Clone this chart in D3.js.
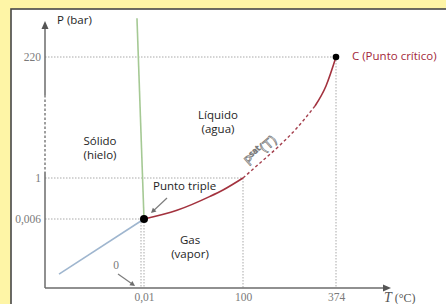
<!DOCTYPE html>
<html><head><meta charset="utf-8">
<script src="https://cdn.jsdelivr.net/npm/d3@7"></script>
<style>
html,body{margin:0;padding:0;background:#fef5a6;}
svg{display:block;}
</style></head>
<body>
<svg id="c" width="446" height="304"></svg>
<script>
// ---- data ----
const xTickVals = [0.01, 100, 374];
const xTickLabels = ["0,01", "100", "374"];
const yTickVals = [0.006, 1, 220];
const yTickLabels = ["0,006", "1", "220"];
// phase boundaries [T (°C), P (bar)]
const sublimation = [[-42.7, 0.0012], [0.01, 0.006]];
const fusion = [[-2.1, 290], [0.01, 0.006]];
const vaporLow = [[0.01, 0.006], [33.3, 0.217], [66.7, 0.554], [79.8, 0.709], [100, 1]];
const vaporMid = [[100, 1], [150.1, 28.2], [203.1, 57.1], [256.1, 89.7], [312.1, 131.3]];
const vaporHigh = [[312.1, 131.3], [344.5, 167.5], [374, 220]];
const triplePoint = [0.01, 0.006];
const criticalPoint = [374, 220];
const zeroT = 0;

const svg = d3.select("#c");
// schematic (piecewise) scales
const x = d3.scaleLinear().domain([-50, 0, 0.01, 100, 374]).range([45, 141, 144, 243, 336]);
const y = d3.scaleLinear().domain([0, 0.006, 1, 220]).range([288, 219, 178, 57]);
const x0 = 45, y0 = 288;

// panel
svg.append("rect").attr("x", 11).attr("y", 9).attr("width", 460).attr("height", 320)
  .attr("fill", "#fff").attr("stroke", "#474747").attr("stroke-width", 1.6);

const grid = svg.append("g").attr("stroke", "#a9a9a9").attr("stroke-width", 1).attr("stroke-dasharray", "1.5,1.5").attr("fill", "none");
[[220, 374], [1, 100], [0.006, 0.01]].forEach(([p, t]) => {
  grid.append("line").attr("x1", x0).attr("x2", x(t)).attr("y1", y(p)).attr("y2", y(p));
});
[[0.01, 0.006], [100, 1], [374, 220]].forEach(([t, p]) => {
  grid.append("line").attr("x1", x(t)).attr("x2", x(t)).attr("y1", y(p)).attr("y2", y0);
});
grid.append("line").attr("x1", x(zeroT)).attr("x2", x(zeroT)).attr("y1", y(0.006)).attr("y2", y0);

// axes lines
const ax = svg.append("g").attr("stroke", "#6b6b6b").attr("stroke-width", 1.5).attr("fill", "none");
ax.append("line").attr("x1", x0).attr("x2", x0).attr("y1", 27).attr("y2", 95);
ax.append("line").attr("x1", x0).attr("x2", x0).attr("y1", 95).attr("y2", 172).attr("stroke-dasharray", "2.5,2").attr("stroke-width", 1.3);
ax.append("line").attr("x1", x0).attr("x2", x0).attr("y1", 172).attr("y2", y0);
ax.append("line").attr("x1", x0).attr("x2", 384).attr("y1", y0).attr("y2", y0);
svg.append("path").attr("d", `M${x0},21 L${x0-3.5},29 L${x0+3.5},29 Z`).attr("fill", "#555");
svg.append("path").attr("d", `M391,${y0} L383,${y0-3.5} L383,${y0+3.5} Z`).attr("fill", "#555");

// tick labels via d3 axes
const yAxis = svg.append("g").attr("transform", `translate(${x0},0)`)
  .call(d3.axisLeft(y).tickValues(yTickVals).tickSize(0).tickPadding(4).tickFormat((d, i) => yTickLabels[i]));
const xAxis = svg.append("g").attr("transform", `translate(0,${y0})`)
  .call(d3.axisBottom(x).tickValues(xTickVals).tickSize(0).tickPadding(5).tickFormat((d, i) => xTickLabels[i]));
[yAxis, xAxis].forEach(a => {
  a.select(".domain").remove();
  a.selectAll("text").attr("font-family", "Liberation Serif, serif").attr("font-size", 11.5).attr("fill", "#7a7a7a");
});

const line = d3.line().x(d => x(d[0])).y(d => y(d[1]));
const lineC = d3.line().x(d => x(d[0])).y(d => y(d[1])).curve(d3.curveMonotoneX);

svg.append("path").datum(sublimation).attr("d", line).attr("fill", "none").attr("stroke", "#9fb6cf").attr("stroke-width", 1.6);
svg.append("path").datum(fusion).attr("d", line).attr("fill", "none").attr("stroke", "#a5c994").attr("stroke-width", 1.6);
svg.append("path").datum(vaporLow).attr("d", lineC).attr("fill", "none").attr("stroke", "#a3323e").attr("stroke-width", 1.6);
svg.append("path").datum(vaporMid).attr("d", lineC).attr("fill", "none").attr("stroke", "#a5404e").attr("stroke-width", 1.4).attr("stroke-dasharray", "3,2.5");
svg.append("path").datum(vaporHigh).attr("d", lineC).attr("fill", "none").attr("stroke", "#a3323e").attr("stroke-width", 1.6);

svg.append("circle").attr("cx", x(triplePoint[0])).attr("cy", y(triplePoint[1])).attr("r", 4).attr("fill", "#000");
svg.append("circle").attr("cx", x(criticalPoint[0])).attr("cy", y(criticalPoint[1])).attr("r", 3.3).attr("fill", "#000");

// text labels
const sans = "Open Sans, Noto Sans, sans-serif";
function txt(s, px, py, opt = {}) {
  return svg.append("text").attr("x", px).attr("y", py).text(s)
    .attr("font-family", opt.font || sans).attr("font-size", opt.size || 11.5)
    .attr("fill", opt.fill || "#1e1e1e").attr("text-anchor", opt.anchor || "start")
    .attr("dominant-baseline", "middle");
}
txt("P (bar)", 57, 21);
txt("C (Punto crítico)", 352, 57, {fill: "#a3283a"});
txt("Líquido", 218, 116, {anchor: "middle"});
txt("(agua)", 218, 130, {anchor: "middle"});
txt("Sólido", 100, 142, {anchor: "middle"});
txt("(hielo)", 100, 156, {anchor: "middle"});
txt("Punto triple", 153, 187);
txt("Gas", 190, 241, {anchor: "middle"});
txt("(vapor)", 190, 255, {anchor: "middle"});
txt("0", 116, 266, {font: "Liberation Serif, serif", fill: "#7a7a7a", size: 11.5, anchor: "middle"});
const tl = svg.append("text").attr("x", 384).attr("y", 299).attr("font-family", "Liberation Serif, serif")
  .attr("font-size", 14).attr("fill", "#555").attr("dominant-baseline", "middle");
tl.append("tspan").attr("font-style", "italic").text("T");
tl.append("tspan").attr("font-size", 12).text(" (°C)");

// P^sat(T) label
const ps = svg.append("text").attr("transform", "translate(261,151) rotate(-41)")
  .attr("font-family", "DejaVu Sans, sans-serif").attr("font-size", 13).attr("fill", "#fff").attr("stroke", "#7a7a7a").attr("stroke-width", 0.75)
  .attr("text-anchor", "middle").attr("dominant-baseline", "middle");
ps.append("tspan").text("P");
ps.append("tspan").attr("font-size", 8).attr("dy", -4.5).text("sat");
ps.append("tspan").attr("dy", 4.5).text("(T)");

// pointer arrows
function arrow(x1, y1, x2, y2) {
  const a = Math.atan2(y2 - y1, x2 - x1), L = 5, w = 2.6;
  svg.append("line").attr("x1", x1).attr("y1", y1).attr("x2", x2 - Math.cos(a) * 3).attr("y2", y2 - Math.sin(a) * 3)
    .attr("stroke", "#7d7d7d").attr("stroke-width", 1.2);
  const bx = x2 - Math.cos(a) * L, by = y2 - Math.sin(a) * L;
  svg.append("path").attr("d", `M${x2},${y2} L${bx - Math.sin(a) * w},${by + Math.cos(a) * w} L${bx + Math.sin(a) * w},${by - Math.cos(a) * w} Z`).attr("fill", "#6d6d6d");
}
arrow(167, 198, 151, 213);
arrow(118, 274, 135, 286);
</script>
</body></html>
